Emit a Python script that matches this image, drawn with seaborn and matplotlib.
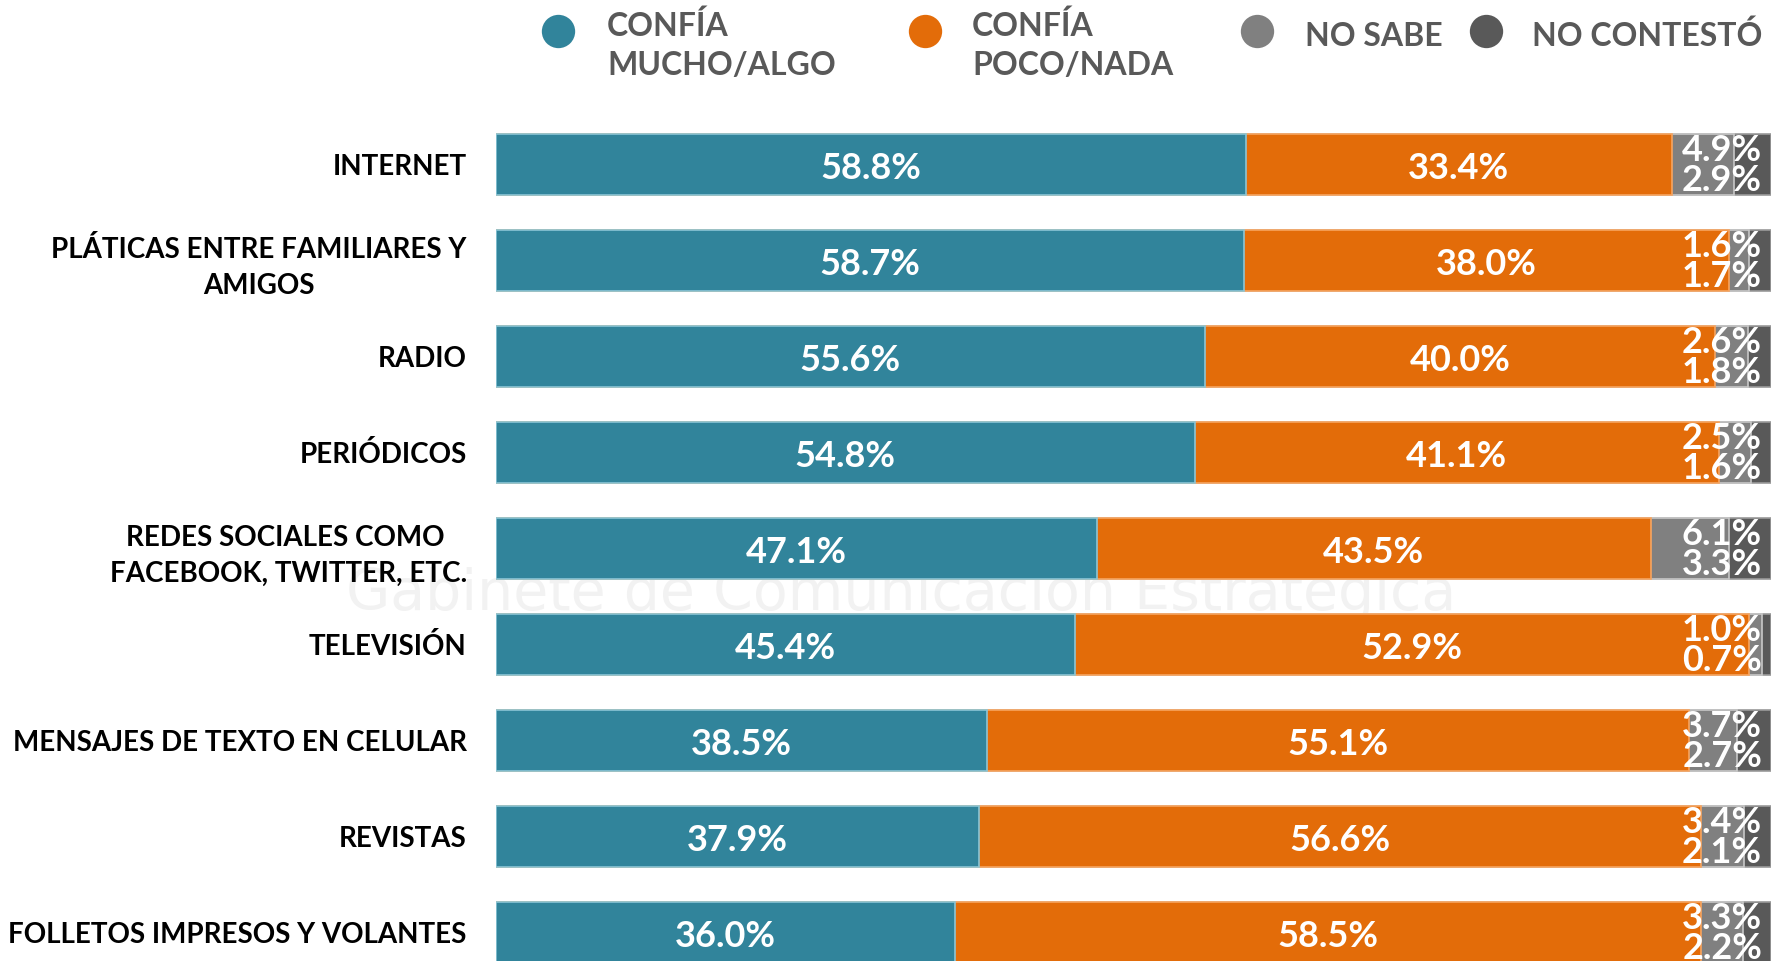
"""Confianza en medios - barras apiladas horizontales"""

import pandas as pd
import matplotlib
matplotlib.use("Agg")
import matplotlib.pyplot as plt
from matplotlib.lines import Line2D
import seaborn as sns

categories = [
    "INTERNET",
    "PLÁTICAS ENTRE FAMILIARES Y\nAMIGOS",
    "RADIO",
    "PERIÓDICOS",
    "REDES SOCIALES COMO \nFACEBOOK, TWITTER, ETC.",
    "TELEVISIÓN",
    "MENSAJES DE TEXTO EN CELULAR",
    "REVISTAS",
    "FOLLETOS IMPRESOS Y VOLANTES",
]
confia_mucho = [58.8, 58.7, 55.6, 54.8, 47.1, 45.4, 38.5, 37.9, 36.0]
confia_poco = [33.4, 38.0, 40.0, 41.1, 43.5, 52.9, 55.1, 56.6, 58.5]
no_sabe = [4.9, 1.6, 2.6, 2.5, 6.1, 1.0, 3.7, 3.4, 3.3]
no_contesto = [2.9, 1.7, 1.8, 1.6, 3.3, 0.7, 2.7, 2.1, 2.2]

series_names = ["CONFÍA\nMUCHO/ALGO", "CONFÍA\nPOCO/NADA", "NO SABE", "NO CONTESTÓ"]
colors = ["#31849B", "#E36C09", "#808080", "#595959"]
edge_colors = ["#8cc6d6", "#f7a560", "#c8c8c8", "#9a9a9a"]

cols = ["mucho", "poco", "no_sabe", "no_contesto"]
df = pd.DataFrame({
    "categoria": categories,
    "mucho": confia_mucho,
    "poco": confia_poco,
    "no_sabe": no_sabe,
    "no_contesto": no_contesto,
})
cum = df[cols].cumsum(axis=1)
cum["categoria"] = categories

sns.set_theme(style="white")
plt.rcParams["font.family"] = ["Lato", "DejaVu Sans"]

W, H = 1779, 961
fig = plt.figure(figsize=(W / 100, H / 100), dpi=100)
ax = fig.add_axes([496 / W, 0.0, 1275 / W, 1 - 116.5 / H])

# stacked bars: draw cumulative totals from the outermost segment inward
for i in reversed(range(len(cols))):
    sns.barplot(
        data=cum, x=cols[i], y="categoria", orient="h",
        color=colors[i], saturation=1, edgecolor=edge_colors[i],
        linewidth=1.2, width=0.635, errorbar=None, ax=ax, zorder=2,
    )

# value labels
lab_kw = dict(color="white", fontsize=26, fontweight="bold", va="center", zorder=5)
for i in range(len(categories)):
    ax.text(confia_mucho[i] / 2, i + 0.04, f"{confia_mucho[i]:.1f}%", ha="center", **lab_kw)
    ax.text(confia_mucho[i] + confia_poco[i] / 2, i + 0.04, f"{confia_poco[i]:.1f}%",
            ha="center", **lab_kw)
    ax.text(99.3, i - 0.15, f"{no_sabe[i]:.1f}%", ha="right", clip_on=True, **lab_kw)
    ax.text(99.3, i + 0.17, f"{no_contesto[i]:.1f}%", ha="right", clip_on=True, **lab_kw)

# faint watermark
ax.text(31.8, 4.47, "Gabinete de Comunicación Estratégica", fontsize=41,
        family="DejaVu Sans", color="#f2f2f2", ha="center", va="center", zorder=0)

ax.set_xlim(0, 100)
ax.set_ylim(8.297, -0.5)
ax.set_xticks([])
ax.set_xlabel("")
ax.set_ylabel("")
ax.set_yticks(range(len(categories)))
ax.set_yticklabels(categories, fontsize=20, fontweight="bold", color="black")
for t in ax.get_yticklabels():
    t.set_multialignment("center")
    t.set_linespacing(1.45)
ax.tick_params(axis="y", length=0, pad=21)
sns.despine(ax=ax, left=True, bottom=True)

# legend drawn along the top
marker_x = [558, 925, 1257, 1486]
text_x = [607, 972, 1305, 1532]
for k in range(4):
    fig.add_artist(Line2D([marker_x[k] / W], [1 - 31 / H], marker="o", markersize=26,
                          markerfacecolor=colors[k], markeredgecolor="white",
                          markeredgewidth=2, linestyle="none", transform=fig.transFigure))
    ty = 45 if "\n" in series_names[k] else 36
    fig.text(text_x[k] / W, 1 - ty / H, series_names[k], fontsize=23, fontweight="bold",
             color="#595959", ha="left", va="center", linespacing=1.4)

fig.savefig("out.png", dpi=100)
